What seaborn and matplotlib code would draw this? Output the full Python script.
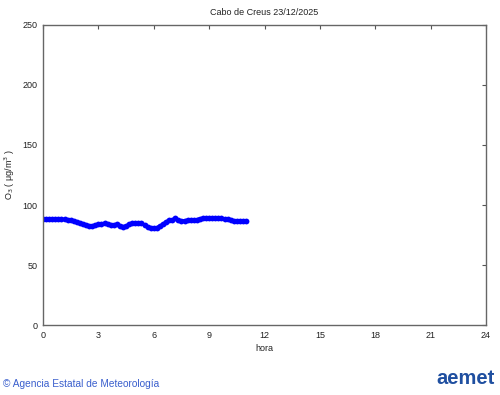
import matplotlib
matplotlib.use("Agg")
import matplotlib.pyplot as plt
import numpy as np
import pandas as pd
import seaborn as sns

# 10-minute ozone values, Cabo de Creus, 23/12/2025
hora = [i / 6 for i in range(67)]
o3 = [88.5, 88.5, 88.4, 88.3, 88.4, 88.2, 88.1, 88.0, 87.8, 87.3,
      86.6, 85.8, 85.0, 84.2, 83.4, 82.7, 82.4, 83.2, 84.0, 84.5,
      84.6, 84.2, 83.2, 83.6, 83.8, 82.8, 82.0, 82.5, 84.0, 85.0,
      85.2, 84.8, 85.0, 83.5, 81.8, 80.8, 80.5, 81.2, 82.5, 84.0,
      86.0, 87.2, 87.6, 88.8, 87.2, 86.6, 87.0, 87.3, 87.4, 87.4,
      87.8, 88.6, 89.0, 89.2, 89.5, 89.2, 89.3, 89.0, 88.8, 88.6,
      88.0, 87.2, 86.8, 86.6, 86.6, 86.4, 86.8]
xticks = [0, 3, 6, 9, 12, 15, 18, 21, 24]
yticks = [0, 50, 100, 150, 200, 250]

df = pd.DataFrame({'hora': hora, 'o3': o3})

sns.set_style('white')
plt.rcParams['font.family'] = ['Liberation Sans', 'DejaVu Sans']

fig = plt.figure(figsize=(5, 3.95), dpi=100)
ax = fig.add_axes([0.086, 0.177, 0.886, 0.76])

sns.lineplot(data=df, x='hora', y='o3', ax=ax, color='#0000ff', linewidth=2.4,
             marker='o', markersize=4.2, markeredgewidth=0)

ax.set_xlim(0, 24)
ax.set_ylim(0, 250)
ax.set_xticks(xticks)
ax.set_yticks(yticks)
ax.tick_params(direction='in', length=3, width=0.8, color='#555555',
               labelsize=6.5, labelcolor='#222222', top=True, right=True,
               labeltop=False, labelright=False, pad=4)
for s in ax.spines.values():
    s.set_color('#666666')
    s.set_linewidth(1.0)

ax.set_title('Cabo de Creus 23/12/2025', fontsize=6.5, color='#222222', pad=7)
ax.set_xlabel('hora', fontsize=6.5, color='#222222', labelpad=3)
ax.set_ylabel('O$_3$ ( μg/m$^3$ )', fontsize=6.5, color='#222222')
ax.yaxis.set_label_coords(-0.058, 0.5)

fig.text(0.006, 0.028, '© Agencia Estatal de Meteorología', fontsize=7.3,
         color='#3a5fcd', ha='left', va='center')
fig.text(0.99, 0.042, 'aemet', fontsize=14.5, fontweight='bold',
         color='#1f4fa0', ha='right', va='center')

fig.savefig('out.png', dpi=100)
